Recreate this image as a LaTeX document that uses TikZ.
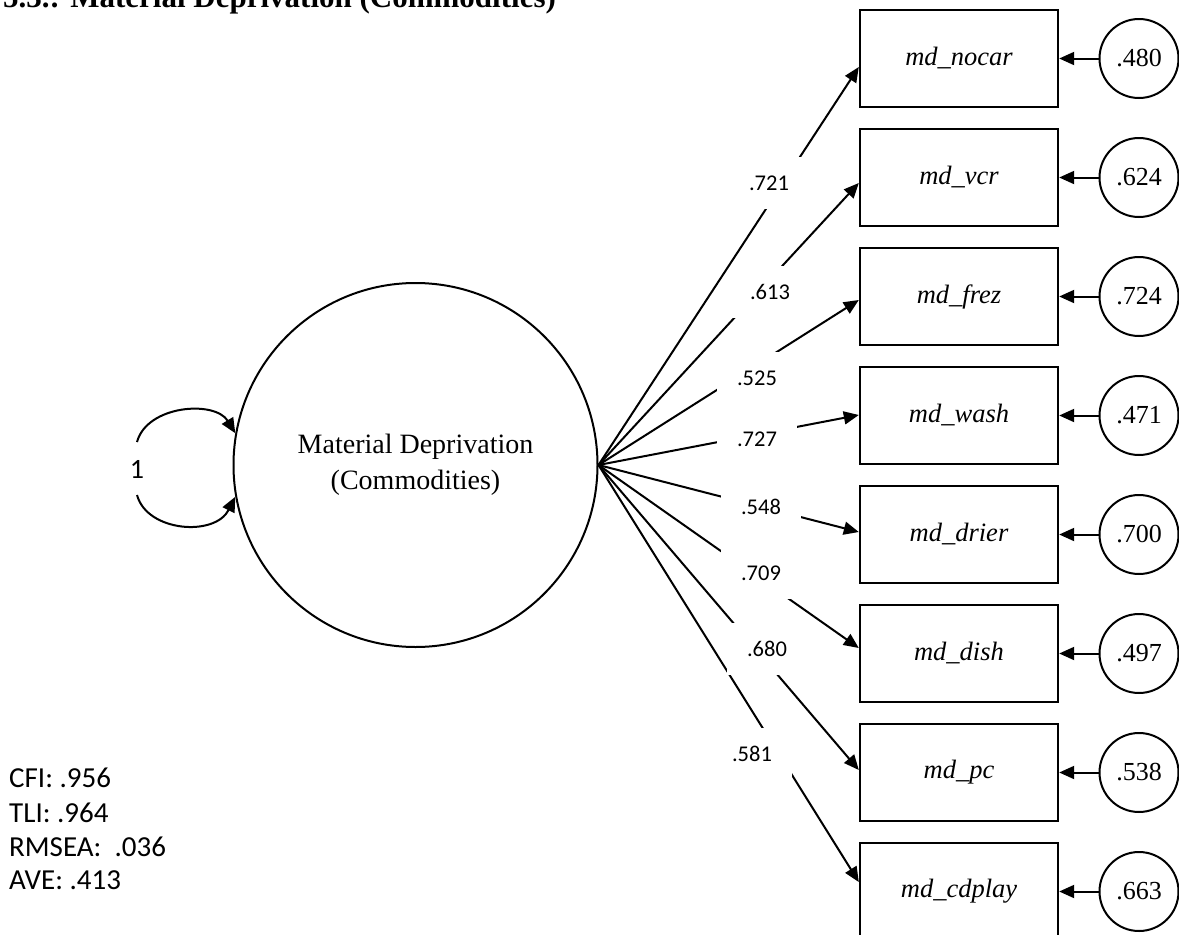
\documentclass[tikz,border=0pt]{standalone}
\usepackage{fontspec}
\setmainfont{Liberation Serif}
\newfontfamily\statfont{Carlito}
\usetikzlibrary{arrows.meta,calc}
\begin{document}
\begin{tikzpicture}[x=1pt,y=-1pt,
  obs/.style={draw,line width=2.4pt,minimum width=198pt,minimum height=97pt,
    inner sep=0pt,font=\fontsize{26.5}{30}\selectfont\itshape},
  err/.style={draw,circle,line width=2pt,minimum size=79pt,inner sep=0pt,
    font=\fontsize{26}{30}\selectfont},
  latent/.style={draw,circle,line width=2pt,minimum size=364pt,inner sep=0pt,
    align=center,font=\fontsize{28}{36}\selectfont},
  coef/.style={fill=white,minimum width=80pt,minimum height=52pt,inner sep=0pt,
    font=\fontsize{22.5}{26}\statfont},
  stat/.style={anchor=base west,inner sep=0pt,font=\fontsize{29}{34}\statfont},
  load/.style={line width=2pt,-{Triangle[length=15pt,width=13pt]}},
]
\useasboundingbox (0,0) rectangle (1179,935);
\clip (0,0) rectangle (1179,935);

% heading, running off the top edge
\node[anchor=base west,inner sep=0pt,font=\fontsize{31}{36}\selectfont\bfseries]
  (title) at (3,7) {5.3.: Material Deprivation (Commodities)};

% latent factor
\node[latent] (L) at (415.5,465) {Material Deprivation\\(Commodities)};

% variance loop
\coordinate (lt) at (137,442);
\coordinate (lb) at (137,495);
\draw[load] (lt) .. controls (147,405) and (215,400) .. (L.170);
\draw[load] (lb) .. controls (147,532) and (215,537) .. (L.190);
\node[inner sep=0pt,font=\fontsize{28}{32}\statfont] (one) at (137,469) {1};

% indicators, error terms and loadings
\foreach \i/\name/\err/\dy in {1/nocar/.480/8.5, 2/vcr/.624/5.5, 3/frez/.724/3.5,
    4/wash/.471/-0.5, 5/drier/.700/-2.5, 6/dish/.497/-5.5, 7/pc/.538/-2.5,
    8/cdplay/.663/-9.5} {
  \node[obs] (b\i) at (959,{58.5+119*(\i-1)}) {md\_\name};
  \node[err] (e\i) at (1139,{58.5+119*(\i-1)}) {\err};
  \draw[load] (e\i) -- (b\i);
  \draw[load] (L.east) -- ($(b\i.west)+(0,\dy)$);
}

% loading estimates
\foreach \i/\v/\x/\y in {1/.721/769/183, 2/.613/770/292, 3/.525/757/378,
    4/.727/757/439, 5/.548/761/507, 6/.709/761/573, 7/.680/767/649,
    8/.581/752/754} {
  \node[coef] (c\i) at (\x,\y) {\v};
}

% fit statistics
\node[stat] (cfi) at (9,787) {CFI: .956};
\node[stat] (tli) at (9,822) {TLI: .964};
\node[stat] (rmsea) at (9,856) {RMSEA:\ \ .036};
\node[stat] (ave) at (9,889) {AVE: .413};
\end{tikzpicture}
\end{document}
